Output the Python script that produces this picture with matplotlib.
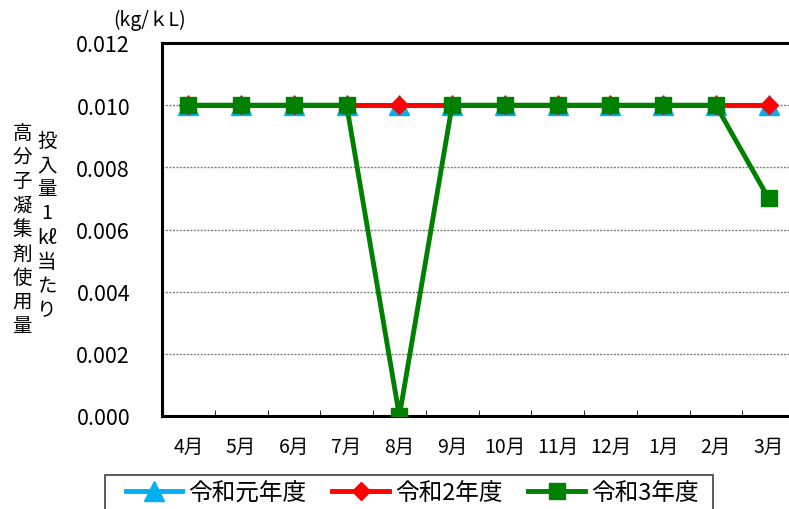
import matplotlib
matplotlib.use("Agg")
import matplotlib.pyplot as plt
from matplotlib.patches import Rectangle

plt.rcParams['font.family'] = ['Noto Sans CJK JP', 'DejaVu Sans']

months = ["4月", "5月", "6月", "7月", "8月", "9月", "10月", "11月", "12月", "1月", "2月", "3月"]
r1 = [0.010] * 12
r2 = [0.010] * 12
r3 = [0.010, 0.010, 0.010, 0.010, 0.000, 0.010, 0.010, 0.010, 0.010, 0.010, 0.010, 0.007]
series_names = ["令和元年度", "令和2年度", "令和3年度"]
yticks = [0.000, 0.002, 0.004, 0.006, 0.008, 0.010, 0.012]

W, H = 789, 510
fig = plt.figure(figsize=(W / 100, H / 100), dpi=100)
left, right, top, bottom = 162, 795, 44, 417
ax = fig.add_axes([left / W, 1 - bottom / H, (right - left) / W, (bottom - top) / H])

x = list(range(len(months)))
ax.plot(x, r1, color="#00B0F0", lw=3.5, marker="^", ms=14, label=series_names[0], zorder=3)
ax.plot(x, r2, color="#FF0000", lw=3.5, marker="D", ms=9, label=series_names[1], zorder=4)
ax.plot(x, r3, color="#008000", lw=3.5, marker="s", ms=11, label=series_names[2], zorder=5)

ax.set_xlim(-0.5, len(months) - 0.5)
ax.set_ylim(0, 0.012)
ax.set_yticks(yticks)
ax.set_yticklabels([f"{v:.3f}" for v in yticks], fontsize=15.5)
ax.set_xticks(x)
ax.set_xticklabels(months, fontsize=14)
ax.tick_params(axis="y", length=0, pad=23)
ax.tick_params(axis="x", length=0, pad=14)
ax.set_xticks([i + 0.5 for i in x[:-1]], minor=True)
ax.tick_params(axis="x", which="minor", direction="in", length=4)
ax.grid(axis="y", color="#808080", linestyle=(0, (1.5, 1)), lw=1)
ax.set_axisbelow(True)
for s in ax.spines.values():
    s.set_linewidth(2.2)
    s.set_color("black")

fig.text(150 / W, 1 - 20 / H, "(kg/ｋL)", fontsize=14, ha="center", va="center")

col1 = list("高分子凝集剤使用量")
col2 = ["投", "入", "量", "1", "kℓ", "当", "た", "り"]
fig.text(22 / W, 1 - 230 / H, "\n".join(col1), fontsize=14, ha="center", va="center", linespacing=1.2)
fig.text(47 / W, 1 - 226 / H, "\n".join(col2), fontsize=14, ha="center", va="center", linespacing=1.2)

# legend box
fig.patches.append(Rectangle((105 / W, -10 / H), (713 - 105) / W, (510 + 10 - 476) / H,
                             transform=fig.transFigure, fill=False, edgecolor="#404040", lw=1.2))
leg = fig.legend(loc="center", bbox_to_anchor=(412 / W, 1 - 494 / H),
                 ncol=3, fontsize=17, frameon=False, handlelength=2.4, borderaxespad=0,
                 borderpad=0, columnspacing=1.1, handletextpad=0.25)

fig.savefig("out.png", dpi=100)
